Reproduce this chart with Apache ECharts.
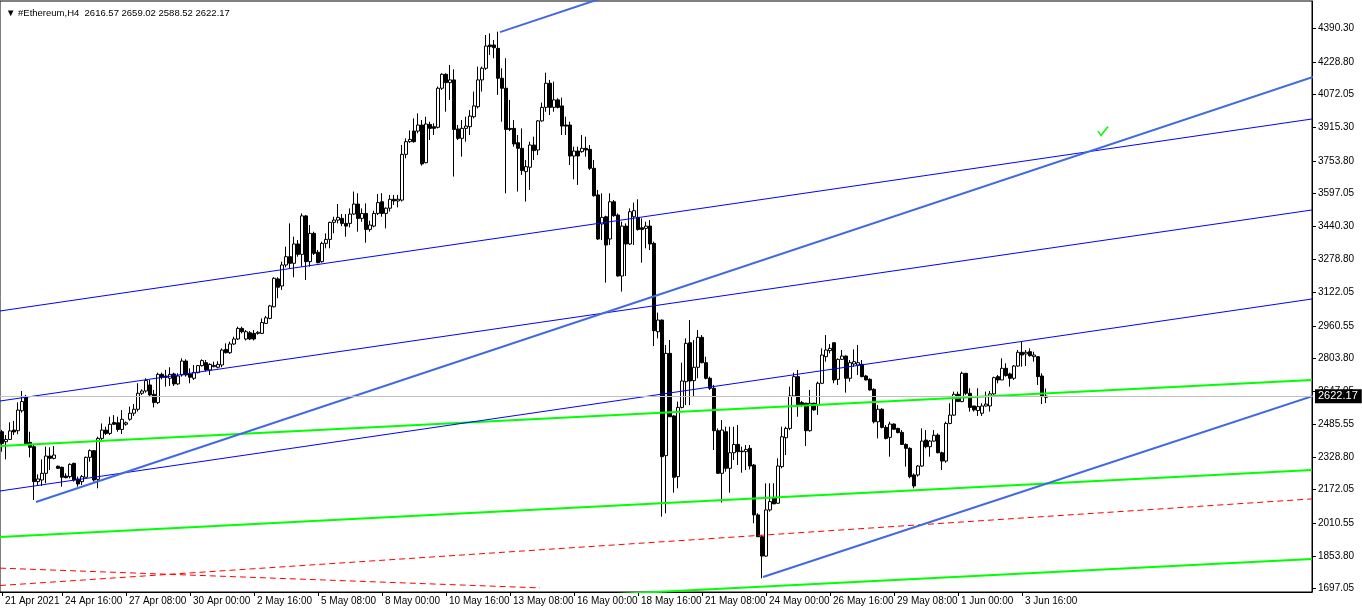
<!DOCTYPE html>
<html>
<head>
<meta charset="utf-8">
<script src="https://cdn.jsdelivr.net/npm/echarts@6.0.0/dist/echarts.min.js"></script>
<style>
html,body{margin:0;padding:0;background:#ffffff;}
#chart{width:1362px;height:612px;}
</style>
</head>
<body>
<div id="chart"></div>
<script>
// ---------- DATA ----------
const symbolName = "#Ethereum,H4";
const lastOHLC = [2616.57, 2659.02, 2588.52, 2622.17]; // open, high, low, close of the last bar

// H4 candles, each [open, close, low, high]
const candles = [
[2451,2395,2355,2460],[2403,2414,2318,2435],[2414,2455,2411,2496],[2459,2450,2435,2503],
[2456,2555,2439,2592],[2552,2596,2543,2647],[2620,2392,2387,2628],[2400,2376,2328,2451],
[2379,2211,2123,2387],[2211,2224,2195,2246],[2219,2251,2190,2318],[2251,2334,2203,2379],
[2334,2323,2267,2376],[2323,2339,2318,2382],[2285,2275,2272,2288],[2280,2232,2187,2283],
[2238,2230,2227,2251],[2235,2294,2227,2299],[2299,2219,2211,2302],[2224,2200,2187,2235],
[2211,2235,2195,2243],[2232,2328,2232,2331],[2328,2360,2307,2366],[2360,2219,2211,2363],
[2222,2419,2179,2427],[2419,2459,2411,2491],[2459,2443,2435,2475],[2443,2487,2435,2523],
[2495,2487,2483,2531],[2494,2462,2451,2523],[2462,2511,2440,2555],[2487,2494,2480,2500],
[2511,2540,2504,2572],[2540,2559,2527,2584],[2559,2636,2548,2684],[2636,2647,2628,2655],
[2647,2697,2639,2708],[2676,2628,2620,2700],[2631,2591,2568,2652],[2591,2727,2584,2735],
[2727,2713,2703,2735],[2719,2713,2668,2748],[2708,2727,2671,2761],[2729,2681,2671,2735],
[2681,2719,2676,2732],[2724,2791,2716,2804],[2791,2724,2716,2799],[2729,2713,2684,2756],
[2708,2735,2700,2772],[2735,2769,2732,2772],[2769,2793,2764,2799],[2783,2748,2740,2796],
[2748,2775,2724,2780],[2764,2770,2761,2788],[2761,2775,2756,2790],[2772,2844,2761,2852],
[2847,2831,2828,2876],[2831,2873,2825,2884],[2873,2897,2868,2908],[2897,2948,2892,2956],
[2948,2932,2924,2956],[2897,2932,2890,2940],[2927,2897,2892,2935],[2924,2897,2890,2940],
[2924,2929,2918,2935],[2924,2976,2921,2996],[2972,2999,2969,3008],[2996,3056,2992,3061],
[3052,3189,3049,3194],[3186,3146,3093,3194],[3152,3253,3133,3269],[3253,3293,3242,3341],
[3293,3261,3237,3453],[3261,3354,3194,3389],[3354,3304,3293,3373],[3304,3489,3245,3501],
[3489,3269,3181,3493],[3269,3405,3245,3445],[3405,3309,3301,3413],[3314,3264,3261,3325],
[3269,3357,3264,3365],[3357,3376,3333,3405],[3376,3458,3333,3461],[3458,3469,3405,3485],
[3469,3482,3453,3546],[3477,3453,3440,3498],[3453,3440,3389,3498],[3453,3498,3434,3525],
[3498,3546,3493,3606],[3546,3477,3413,3598],[3477,3501,3461,3525],[3501,3424,3360,3549],
[3424,3445,3413,3466],[3440,3501,3434,3514],[3501,3553,3493,3594],[3557,3501,3485,3598],
[3501,3526,3429,3530],[3526,3569,3510,3590],[3569,3561,3542,3590],[3561,3569,3530,3590],
[3565,3785,3558,3830],[3785,3846,3766,3862],[3846,3857,3841,3900],[3897,3846,3841,3958],
[3897,3926,3886,3982],[3926,3739,3731,3950],[3745,3931,3742,3966],[3929,3910,3854,3942],
[3918,3910,3878,3934],[3915,4103,3910,4111],[4103,4170,4095,4175],[4170,4130,3990,4175],
[4130,4143,4047,4215],[4143,3905,3678,4194],[3907,3862,3854,3926],[3862,3910,3774,3950],
[3910,3921,3846,3966],[3918,3969,3878,3998],[3966,4018,3958,4087],[4014,4143,4006,4207],
[4143,4199,4087,4207],[4199,4306,4191,4359],[4311,4303,4263,4367],[4311,4298,4247,4335],
[4295,4151,4071,4375],[4151,4103,3942,4199],[4103,3905,3598,4247],[3910,3905,3897,4047],
[3910,3835,3822,3950],[3841,3814,3606,3878],[3814,3707,3686,3910],[3702,3726,3558,3758],
[3723,3830,3614,3846],[3830,3803,3758,3870],[3806,3946,3782,3950],[3946,4011,3942,4034],
[4011,4127,3990,4178],[4127,4011,3974,4143],[4011,4047,3990,4135],[4047,4011,4006,4055],
[4018,3921,3878,4058],[3926,3921,3878,3966],[3926,3777,3734,3942],[3777,3801,3665,3822],
[3801,3777,3638,3822],[3798,3814,3793,3878],[3814,3806,3774,3870],[3809,3718,3710,3830],
[3718,3586,3582,3758],[3590,3378,3373,3614],[3450,3482,3373,3598],[3485,3349,3168,3490],
[3378,3557,3349,3598],[3557,3490,3485,3565],[3493,3200,3197,3501],[3200,3440,3125,3461],
[3440,3354,3200,3453],[3354,3509,3349,3525],[3485,3514,3349,3553],[3482,3424,3418,3569],
[3432,3424,3264,3477],[3429,3440,3333,3461],[3440,3354,3325,3469],[3357,2937,2863,3365],
[2932,2988,2900,3024],[2988,2331,2043,2991],[2336,2828,2059,2868],[2828,2523,2523,2892],
[2527,2232,2158,2531],[2235,2568,2179,2596],[2568,2695,2563,2783],[2692,2876,2579,2900],
[2879,2695,2579,2988],[2697,2761,2620,2892],[2761,2905,2708,2940],[2905,2783,2780,2916],
[2783,2708,2703,2812],[2708,2660,2652,2716],[2660,2456,2363,2676],[2456,2251,2248,2467],
[2251,2459,2110,2507],[2451,2275,2259,2475],[2275,2350,2158,2475],[2350,2390,2315,2475],
[2390,2355,2291,2483],[2358,2355,2254,2379],[2355,2366,2267,2387],[2371,2286,2270,2387],
[2291,2051,2011,2296],[2051,1946,1946,2059],[1946,1853,1746,1954],[1853,2075,1850,2203],
[2075,2115,2067,2203],[2131,2104,2104,2203],[2107,2286,2104,2323],[2283,2427,2275,2475],
[2422,2467,2339,2475],[2467,2623,2459,2668],[2623,2716,2620,2735],[2716,2580,2523,2748],
[2591,2580,2572,2599],[2588,2456,2382,2590],[2456,2588,2451,2652],[2588,2556,2552,2590],
[2580,2684,2532,2692],[2684,2820,2680,2852],[2812,2844,2788,2916],[2841,2852,2828,2873],
[2879,2700,2684,2880],[2703,2799,2676,2804],[2799,2815,2796,2844],[2815,2708,2639,2818],
[2708,2783,2692,2796],[2777,2788,2764,2847],[2772,2783,2724,2868],[2775,2716,2713,2796],
[2719,2700,2698,2724],[2703,2652,2649,2708],[2655,2499,2491,2660],[2499,2559,2419,2580],
[2559,2472,2467,2564],[2472,2419,2414,2483],[2424,2488,2331,2499],[2488,2463,2459,2491],
[2467,2447,2443,2470],[2448,2390,2387,2459],[2390,2371,2283,2395],[2371,2235,2227,2376],
[2243,2190,2179,2251],[2243,2286,2235,2291],[2286,2406,2283,2467],[2411,2379,2371,2459],
[2379,2406,2331,2411],[2406,2434,2403,2459],[2435,2350,2347,2443],[2350,2310,2267,2355],
[2310,2491,2302,2499],[2491,2531,2487,2588],[2531,2631,2527,2644],[2631,2596,2596,2644],
[2596,2732,2593,2740],[2732,2636,2628,2732],[2636,2568,2548,2660],[2575,2556,2548,2575],
[2553,2572,2527,2660],[2540,2575,2527,2588],[2575,2584,2572,2644],[2575,2633,2548,2647],
[2633,2711,2628,2716],[2716,2700,2684,2724],[2700,2756,2700,2804],[2756,2721,2716,2780],
[2729,2708,2668,2735],[2708,2767,2700,2772],[2767,2833,2764,2844],[2833,2820,2764,2884],
[2825,2833,2767,2844],[2836,2817,2812,2852],[2812,2820,2788,2836],[2812,2716,2676,2815],
[2719,2623,2584,2732],[2616.57,2622.17,2588.52,2659.02]
];
const emptyFutureBars = 66; // empty space to the right of the last bar

// time-axis labels and the bar index they sit on
const xLabelIndex = [0,15,31,47,63,79,95,111,127,143,159,175,191,207,223,239,255];
const xLabelText = ["21 Apr 2021","24 Apr 16:00","27 Apr 08:00","30 Apr 00:00","2 May 16:00",
  "5 May 08:00","8 May 00:00","10 May 16:00","13 May 08:00","16 May 00:00","18 May 16:00",
  "21 May 08:00","24 May 00:00","26 May 16:00","29 May 08:00","1 Jun 00:00","3 Jun 16:00"];

// price-axis labels
const yTickValues = [4390.30,4228.80,4072.05,3915.30,3753.80,3597.05,3440.30,3278.80,3122.05,
  2960.55,2803.80,2647.05,2485.55,2328.80,2172.05,2010.55,1853.80,1697.05];
const yRange = [1680.21, 4522.56];

// trend lines: [barIndex1, price1, barIndex2, price2]
const thickBlueLines = [
  [8.5, 2113.1, 327.75, 4157.0],
  [190.25, 1752.4, 327.75, 2622.9],
  [124.5, 4373.0, 327.75, 5674.0]
];
const thinBlueLines = [
  [-0.5, 3031.7, 327.5, 3955.1],
  [-0.5, 2598.8, 327.5, 3517.4],
  [-0.5, 2166.0, 327.5, 3089.4]
];
const greenLines = [
  [-0.5, 2382.4, 327.5, 2699.8],
  [-0.5, 1944.7, 327.5, 2267.0],
  [-0.5, 1521.5, 327.5, 1838.9]
];
const redDashLines = [
  [-0.5, 1711.5, 327.5, 2128.0],
  [-0.5, 1795.0, 134.5, 1700.0]
];
const checkMark = [275.25, 3897.3];

// ---------- CHART ----------
const totalBars = candles.length + emptyFutureBars;
const categories = [];
for (let i = 0; i < totalBars; i++) categories.push(String(i));
const labelMap = {};
xLabelIndex.forEach((idx, k) => { labelMap[idx] = xLabelText[k]; });

const FONT = "Liberation Sans";
const series = [];

series.push({
  type: 'candlestick',
  xAxisIndex: 0, yAxisIndex: 0,
  data: candles,
  barWidth: 3,
  itemStyle: { color: '#ffffff', color0: '#000000', borderColor: '#000000', borderColor0: '#000000', borderWidth: 1 },
  emphasis: { disabled: true },
  z: 3,
  markLine: {
    silent: true, symbol: 'none', animation: false,
    lineStyle: { color: '#c0c0c0', type: 'solid', width: 1 },
    label: {
      show: true, position: 'end', distance: 3,
      formatter: p => p.value.toFixed(2),
      color: '#ffffff', backgroundColor: '#000000',
      fontFamily: FONT, fontSize: 11, padding: [2, 4, 1, 3]
    },
    data: [{ yAxis: lastOHLC[3] }]
  }
});

function addLines(list, color, width, type, z) {
  list.forEach(l => {
    series.push({
      type: 'line', xAxisIndex: 1, yAxisIndex: 0,
      data: [[l[0], l[1]], [l[2], l[3]]],
      symbol: 'none', clip: true, silent: true, animation: false,
      lineStyle: { color: color, width: width, type: type },
      z: z
    });
  });
}
addLines(redDashLines, '#ff0000', 1, [6, 4], 4);
addLines(greenLines, '#00ff00', 2, 'solid', 4);
addLines(thinBlueLines, '#0000ff', 1, 'solid', 4);
addLines(thickBlueLines, '#4169e1', 2, 'solid', 4);

// green "check" arrow object
series.push({
  type: 'scatter', xAxisIndex: 1, yAxisIndex: 0,
  data: [checkMark],
  symbol: 'path://M0,5 L3,10 L10,0',
  symbolSize: [10, 9],
  itemStyle: { color: 'transparent', borderColor: '#00ff00', borderWidth: 1.5, opacity: 1 },
  silent: true, animation: false, z: 5
});

const chart = echarts.init(document.getElementById('chart'), null, { renderer: 'canvas' });
chart.setOption({
  animation: false,
  backgroundColor: '#ffffff',
  title: {
    text: '\u25BC ' + symbolName + '  ' + lastOHLC.map(v => v.toFixed(2)).join(' '),
    left: 1, top: 3,
    textStyle: { fontFamily: FONT, fontSize: 9.5, fontWeight: 'normal', color: '#000000' }
  },
  grid: { left: 0, right: 50, top: 1, bottom: 20, show: true, borderColor: '#000000', borderWidth: 1, backgroundColor: 'transparent' },
  xAxis: [
    {
      type: 'category', data: categories, boundaryGap: true,
      axisLine: { show: true, onZero: false, lineStyle: { color: '#000000', width: 1 } },
      axisTick: { show: true, alignWithLabel: true, length: 4, interval: (idx) => labelMap[idx] !== undefined, lineStyle: { color: '#000000' } },
      axisLabel: {
        show: true, interval: (idx) => labelMap[idx] !== undefined,
        formatter: (v, idx) => labelMap[idx] || '',
        align: 'left', margin: 4, padding: [0, 0, 0, 3],
        color: '#000000', fontFamily: FONT, fontSize: 10
      },
      splitLine: { show: false }
    },
    { type: 'value', min: -0.5, max: totalBars - 0.5, show: false, gridIndex: 0,
      axisLine: { show: false, onZero: false }, axisTick: { show: false }, axisLabel: { show: false }, splitLine: { show: false } }
  ],
  yAxis: [{
    type: 'value', position: 'right', min: yRange[0], max: yRange[1], scale: true,
    axisLine: { show: true, onZero: false, lineStyle: { color: '#000000', width: 1 } },
    axisTick: { show: true, inside: false, length: 4, customValues: yTickValues, lineStyle: { color: '#000000' } },
    axisLabel: {
      show: true, customValues: yTickValues, formatter: v => Number(v).toFixed(2),
      margin: 6, color: '#000000', fontFamily: FONT, fontSize: 10
    },
    splitLine: { show: false }
  }],
  series: series
});
</script>
</body>
</html>
